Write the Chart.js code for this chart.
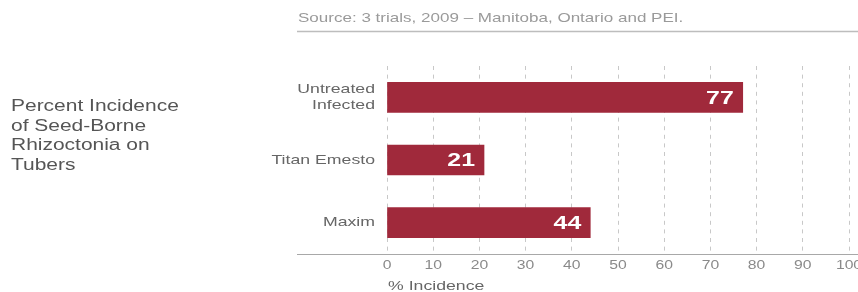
<!DOCTYPE html>
<html>
<head>
<meta charset="utf-8">
<style>
html,body{margin:0;padding:0;background:#fff;}
#wrap{width:858px;height:292px;position:relative;}
</style>
<script src="https://cdn.jsdelivr.net/npm/chart.js@4/dist/chart.umd.min.js"></script>
</head>
<body>
<div id="wrap"><canvas id="c" width="858" height="292"></canvas></div>
<script>
const categories = [["Untreated","Infected"], "Titan Emesto", "Maxim"];
const incidence = [77, 21, 44];
const xTicks = [0,10,20,30,40,50,60,70,80,90,100];
const titleLines = ["Percent Incidence", "of Seed-Borne", "Rhizoctonia on", "Tubers"];
const sourceText = "Source: 3 trials, 2009 \u2013 Manitoba, Ontario and PEI.";
const xAxisTitle = "% Incidence";

const FONT = '"Liberation Sans", Arial, Helvetica, sans-serif';
const SX = 1.31; // horizontal text stretch seen in the reference

function sText(ctx, text, x, y, align, font, color) {
  ctx.save();
  ctx.font = font;
  ctx.fillStyle = color;
  ctx.textAlign = align;
  ctx.textBaseline = 'middle';
  ctx.scale(SX, 1);
  ctx.fillText(text, x / SX, y);
  ctx.restore();
}

const decor = {
  id: 'decor',
  beforeDraw(chart) {
    const ctx = chart.ctx;
    sText(ctx, sourceText, 298, 18, 'left', '13px ' + FONT, '#9a9a9a');
    ctx.save();
    ctx.strokeStyle = '#bdbdbd';
    ctx.lineWidth = 1.5;
    ctx.beginPath();
    ctx.moveTo(297, 31.5);
    ctx.lineTo(858, 31.5);
    ctx.stroke();
    ctx.restore();
    titleLines.forEach((t, i) => sText(ctx, t, 11, 107 + i * 19.5, 'left', '16px ' + FONT, '#555555'));
  },
  afterDatasetsDraw(chart) {
    const ctx = chart.ctx;
    const area = chart.chartArea;
    ctx.save();
    ctx.strokeStyle = '#a8a8a8';
    ctx.lineWidth = 1.2;
    ctx.beginPath();
    ctx.moveTo(297, area.bottom + 0.5);
    ctx.lineTo(858, area.bottom + 0.5);
    ctx.stroke();
    ctx.restore();
    // y tick labels
    const ys = chart.scales.y;
    ys.ticks.forEach((t, i) => {
      const lbl = categories[i];
      const y = ys.getPixelForTick(i);
      const lines = Array.isArray(lbl) ? lbl : [lbl];
      const lh = 15.5;
      lines.forEach((ln, j) => {
        const yy = y - (lines.length - 1) * lh / 2 + j * lh;
        sText(ctx, ln, area.left - 12, yy, 'right', '13.5px ' + FONT, '#666666');
      });
    });
    // x tick labels
    const xs = chart.scales.x;
    xs.ticks.forEach((t, i) => {
      sText(ctx, String(t.value), xs.getPixelForTick(i), area.bottom + 12, 'center', '12px ' + FONT, '#8a8a8a');
    });
    sText(ctx, xAxisTitle, area.left + 1, 286, 'left', '13.5px ' + FONT, '#666666');
    // value labels
    const meta = chart.getDatasetMeta(0);
    meta.data.forEach((bar, i) => {
      sText(ctx, String(incidence[i]), bar.x - 9, bar.y + 1, 'right', 'bold 19px ' + FONT, '#ffffff');
    });
  }
};

new Chart(document.getElementById('c'), {
  type: 'bar',
  data: {
    labels: categories,
    datasets: [{
      data: incidence,
      backgroundColor: '#a0293b',
      borderWidth: 0,
      barThickness: 30
    }]
  },
  options: {
    indexAxis: 'y',
    responsive: false,
    animation: false,
    devicePixelRatio: 1,
    layout: { padding: { left: 297, right: 9, top: 66, bottom: 0 } },
    plugins: { legend: { display: false }, tooltip: { enabled: false } },
    scales: {
      x: {
        min: 0, max: 100,
        afterBuildTicks(scale) { scale.ticks = xTicks.map(v => ({ value: v })); },
        afterFit(scale) { scale.height = 38; scale.paddingLeft = 0; scale.paddingRight = 0; },
        border: { display: false, dash: [4, 4.6] },
        grid: { color: '#c8c8c8', lineWidth: 1, drawTicks: false },
        ticks: { display: false }
      },
      y: {
        afterFit(scale) { scale.width = 90; },
        border: { display: false },
        grid: { display: false, drawTicks: false },
        ticks: { display: false }
      }
    }
  },
  plugins: [decor]
});
</script>
</body>
</html>
